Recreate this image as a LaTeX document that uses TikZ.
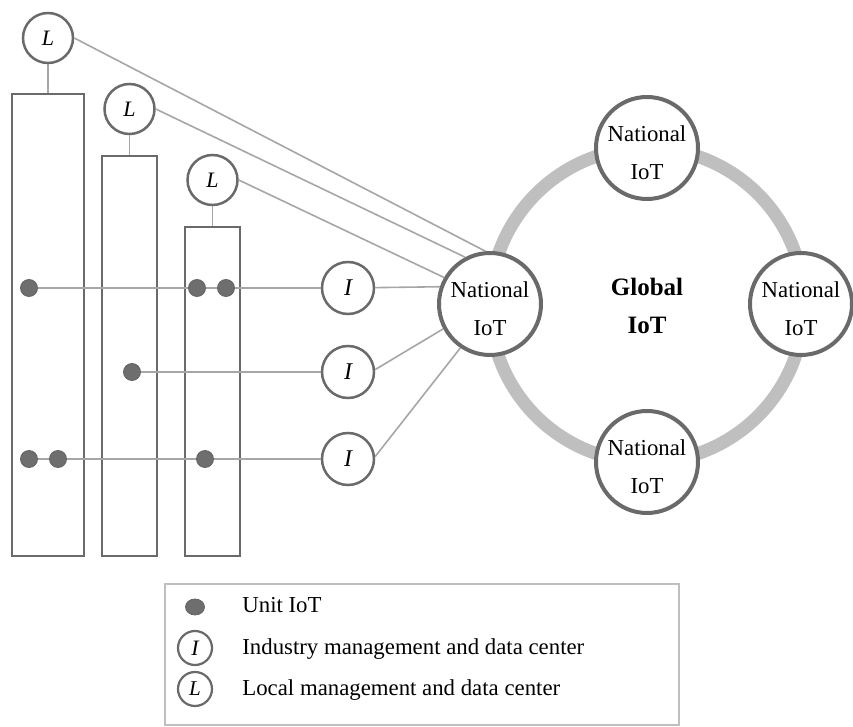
\documentclass[tikz,border=0pt]{standalone}
\usepackage{fontspec}
\setmainfont{Liberation Serif}
\usetikzlibrary{shapes.geometric}
\definecolor{edge}{HTML}{6A6A6A}
\definecolor{thin}{HTML}{A6A6A6}
\definecolor{ringc}{HTML}{BFBFBF}
\definecolor{dotc}{HTML}{6E6E6E}
\begin{document}
\begin{tikzpicture}[x=0.5pt,y=-0.5pt,
  box/.style={draw=edge,line width=1.25pt,rectangle,inner sep=0pt,fill=none},
  lc/.style={draw=edge,line width=1.25pt,circle,fill=white,inner sep=0pt,minimum size=25pt,font=\fontsize{11}{12}\selectfont\itshape},
  ic/.style={draw=edge,line width=1.25pt,circle,fill=white,inner sep=0pt,minimum size=26pt,font=\fontsize{12}{13}\selectfont\itshape},
  nat/.style={draw=edge,line width=2pt,circle,fill=white,inner sep=0pt,minimum size=51pt},
  nattext/.style={align=center,font=\fontsize{11.4}{19}\selectfont,inner sep=0pt},
  unit/.style={circle,fill=dotc,draw=dotc!90!black,line width=0.4pt,inner sep=0pt,minimum size=8.5pt},
  conn/.style={draw=thin,line width=0.8pt},
  legtext/.style={anchor=base west,font=\fontsize{11.4}{13}\selectfont,inner sep=0pt}]
\useasboundingbox (0,0) rectangle (853,727);

% global ring
\draw[ringc,line width=6.5pt] (647,305) circle[radius=78.5pt];

% racks
\node[box,minimum width=36pt,minimum height=231pt] (R1) at (48,325) {};
\node[box,minimum width=27.5pt,minimum height=200pt] (R2) at (129.5,356) {};
\node[box,minimum width=27.5pt,minimum height=164.5pt] (R3) at (212.5,391.5) {};

% local centres
\node[lc] (L1) at (48,38) {L};
\node[lc] (L2) at (129.5,109) {L};
\node[lc] (L3) at (212.5,180) {L};
\draw[conn] (L1) -- (R1);
\draw[conn] (L2) -- (R2);
\draw[conn] (L3) -- (R3);

% unit IoTs
\node[unit] (d11) at (29,288) {};
\node[unit] (d12) at (197,288) {};
\node[unit] (d13) at (226,288) {};
\node[unit] (d21) at (132,372) {};
\node[unit] (d31) at (29,459) {};
\node[unit] (d32) at (58,459) {};
\node[unit] (d33) at (205,459) {};

% industry centres
\node[ic] (I1) at (348,288) {I};
\node[ic] (I2) at (348,372) {I};
\node[ic] (I3) at (348,459) {I};

% national IoTs
\node[nat] (NW) at (490,304) {};
\node[nat] (NN) at (647,148) {};
\node[nat] (NE) at (801,304) {};
\node[nat] (NS) at (647,462) {};
\node[nattext] (tW) at (490,309) {National\\IoT};
\node[nattext] (tN) at (647,153) {National\\IoT};
\node[nattext] (tE) at (801,309) {National\\IoT};
\node[nattext] (tS) at (647,467) {National\\IoT};
\node[align=center,font=\fontsize{12.5}{19}\selectfont\bfseries,inner sep=0pt] (G) at (647,306) {Global\\IoT};

% connectors
\draw[conn] (d11) -- (d12) -- (d13) -- (I1);
\draw[conn] (d21) -- (I2);
\draw[conn] (d31) -- (d32) -- (d33) -- (I3);
\draw[conn] (I1) -- (NW.161.5);
\draw[conn] (I2.5) -- (NW.208);
\draw[conn] (I3.5) -- (NW.236);
\draw[conn] (L1.east) -- (NW.95);
\draw[conn] (L2.east) -- (NW.118);
\draw[conn] (L3.east) -- (NW.150);

% legend
\node[draw=black!25,line width=1pt,rectangle,inner sep=0pt,minimum width=257pt,minimum height=70.5pt] (leg) at (422,654.5) {};
\node[ellipse,fill=dotc,draw=dotc!90!black,line width=0.4pt,inner sep=0pt,minimum width=9.5pt,minimum height=8pt] (k1) at (195,607) {};
\node[draw=edge,line width=1.1pt,circle,fill=white,inner sep=0pt,minimum size=17pt,font=\fontsize{11}{13}\selectfont\itshape] (k2) at (195,648) {I};
\node[draw=edge,line width=1.1pt,circle,fill=white,inner sep=0pt,minimum size=17pt,font=\fontsize{10.5}{13}\selectfont\itshape] (k3) at (195,689) {L};
\node[legtext] (t1) at (242,613) {Unit IoT};
\node[legtext] (t2) at (242,655) {Industry management and data center};
\node[legtext] (t3) at (242,696) {Local management and data center};
\end{tikzpicture}
\end{document}
